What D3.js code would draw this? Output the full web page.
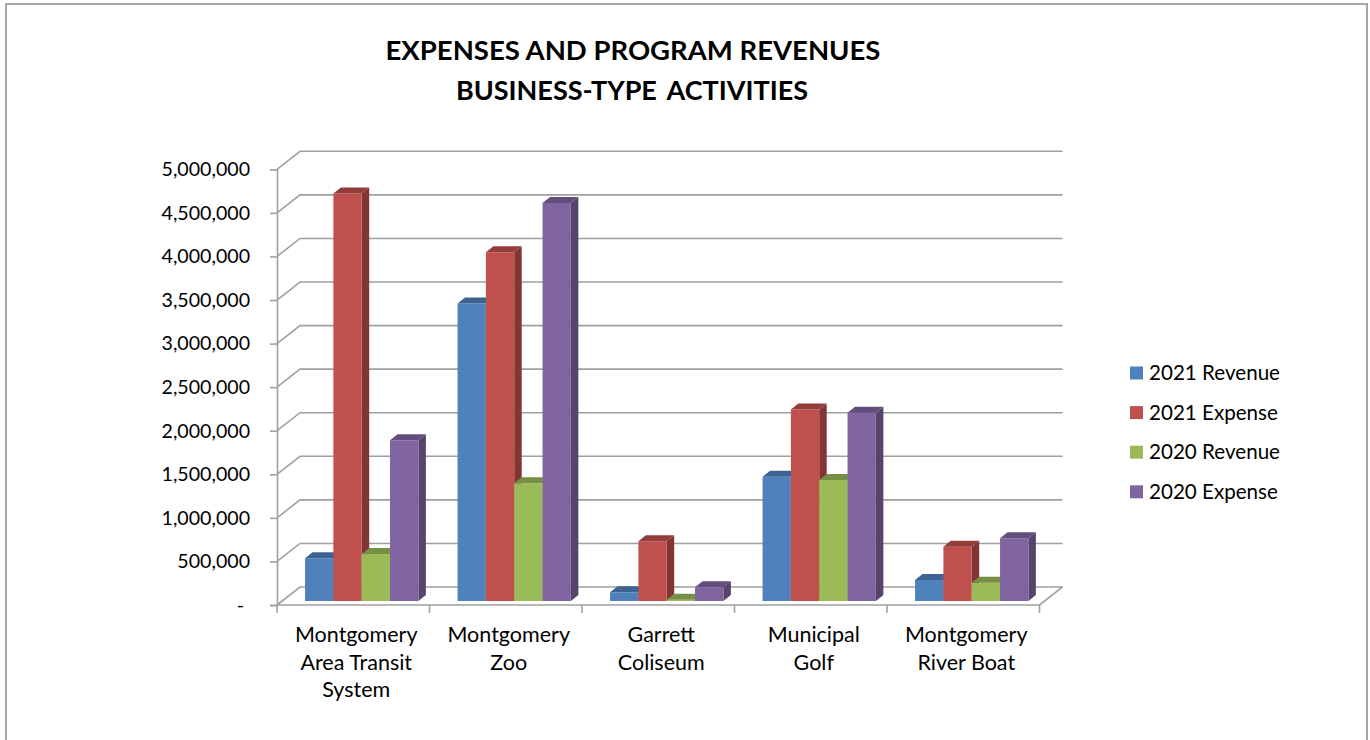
<!DOCTYPE html>
<html>
<head>
<meta charset="utf-8">
<script src="https://unpkg.com/d3@7/dist/d3.min.js"></script>
<style>
  body { margin: 0; background: #fff; }
  svg text { font-family: Lato, "Open Sans", sans-serif; fill: #000; }
</style>
</head>
<body>
<div></div>
<script>
// Data
const categories = ["Montgomery Area Transit System", "Montgomery Zoo", "Garrett Coliseum", "Municipal Golf", "Montgomery River Boat"];
const categoryLines = [["Montgomery", "Area Transit", "System"], ["Montgomery", "Zoo"], ["Garrett", "Coliseum"], ["Municipal", "Golf"], ["Montgomery", "River Boat"]];
const seriesNames = ["2021 Revenue", "2021 Expense", "2020 Revenue", "2020 Expense"];
const revenue2021 = [490000, 3414000, 100000, 1426000, 241000];
const expense2021 = [4676000, 4002000, 685000, 2198000, 623000];
const revenue2020 = [539000, 1350000, 15000, 1388000, 210000];
const expense2020 = [1846000, 4568000, 157000, 2160000, 719000];
const yTicks = [0, 500000, 1000000, 1500000, 2000000, 2500000, 3000000, 3500000, 4000000, 4500000, 5000000];

const seriesValues = [revenue2021, expense2021, revenue2020, expense2020];
const colors = ["#4F81BD", "#C0504D", "#9BBB59", "#8064A2"];

const w = 1370, h = 740;

// depth of the chart box (back wall offset) and bar offsets
const wall = { dx: 23, dy: -18 };
const barFront = { dx: 0, dy: -4 };
const barDepth = { dx: 7.5, dy: -6 };

const svg = d3.select("div")
  .append("svg")
  .attr("width", w)
  .attr("height", h);

// outer frame
svg.append("rect")
  .attr("x", 6).attr("y", 4)
  .attr("width", 1361).attr("height", 760)
  .attr("fill", "none")
  .attr("stroke", "#A6A6A6")
  .attr("stroke-width", 2);

// title
svg.append("text")
  .attr("x", 633).attr("y", 60)
  .attr("text-anchor", "middle")
  .attr("font-weight", "bold")
  .attr("font-size", 27.5)
  .text("EXPENSES AND PROGRAM REVENUES");
svg.append("text")
  .attr("x", 632).attr("y", 100)
  .attr("text-anchor", "middle")
  .attr("font-weight", "bold")
  .attr("font-size", 27)
  .attr("word-spacing", 4)
  .text("BUSINESS-TYPE ACTIVITIES");

const x = d3.scaleBand()
  .domain(categories)
  .range([277, 1039.5]);

const y = d3.scaleLinear()
  .domain([0, 5000000])
  .range([605, 169.3]);

// position of the series inside a category band
const xs = d3.scaleBand()
  .domain(seriesNames)
  .range([x.bandwidth() * 0.184, x.bandwidth() * 0.927]);

const gridColor = "#A0A0A0";
const right = x.range()[1];

// back wall gridlines + side wall diagonals
const grid = svg.append("g").attr("class", "grid")
  .attr("fill", "none").attr("stroke", gridColor).attr("stroke-width", 1.6);

grid.selectAll("path")
  .data(yTicks)
  .enter()
  .append("path")
  .attr("d", d => {
    const y0 = y(d);
    return `M${x.range()[0]},${y0}L${x.range()[0] + wall.dx},${y0 + wall.dy}L${right + wall.dx},${y0 + wall.dy}`;
  });

// floor front and right edges
grid.append("path")
  .attr("d", `M${x.range()[0]},${y(0)}L${right},${y(0)}L${right + wall.dx},${y(0) + wall.dy}`);

// y axis
const yAxis = d3.axisLeft(y)
  .tickValues(yTicks)
  .tickSize(7)
  .tickPadding(20)
  .tickFormat(d => d === 0 ? "-" : d3.format(",")(d));

const ya = svg.append("g")
  .attr("transform", `translate(${x.range()[0]},0)`)
  .call(yAxis);
ya.select(".domain").attr("stroke", gridColor).attr("stroke-width", 1.6);
ya.selectAll(".tick line").attr("stroke", gridColor).attr("stroke-width", 1.6);
ya.selectAll(".tick text")
  .attr("font-size", 19.6)
  .attr("font-family", "Lato, sans-serif")
  .attr("fill", "#000");
ya.selectAll(".tick text").filter(d => d === 0).attr("dx", -6);

// x axis ticks
const xa = svg.append("g");
xa.selectAll("line")
  .data(categories.concat(["end"]))
  .enter()
  .append("line")
  .attr("x1", d => d === "end" ? right : x(d))
  .attr("x2", d => d === "end" ? right : x(d))
  .attr("y1", y(0))
  .attr("y2", y(0) + 8)
  .attr("stroke", gridColor)
  .attr("stroke-width", 1.6);

// category labels
const labels = svg.append("g")
  .selectAll("text")
  .data(categories)
  .enter()
  .append("text")
  .attr("text-anchor", "middle")
  .attr("font-size", 21.5)
  .attr("transform", d => `translate(${x(d) + x.bandwidth() / 2 + 3},${y(0) + 37})`);

labels.selectAll("tspan")
  .data((d, i) => categoryLines[i])
  .enter()
  .append("tspan")
  .attr("x", 0)
  .attr("dy", (d, i) => i === 0 ? 0 : 27.5)
  .text(d => d);

// bars, drawn left to right so faces overlap properly
const bars = [];
categories.forEach((c, j) => {
  seriesNames.forEach((s, i) => {
    bars.push({ cat: c, series: s, i: i, value: seriesValues[i][j] });
  });
});

const barG = svg.append("g")
  .selectAll("g")
  .data(bars)
  .enter()
  .append("g");

function face(d, kind) {
  const x0 = x(d.cat) + xs(d.series) + barFront.dx;
  const x1 = x0 + xs.bandwidth();
  const yb = y(0) + barFront.dy;
  const yt = y(d.value) + barFront.dy;
  const ddx = barDepth.dx, ddy = barDepth.dy;
  if (kind === "front") return `M${x0},${yb}L${x1},${yb}L${x1},${yt}L${x0},${yt}Z`;
  if (kind === "top") return `M${x0},${yt}L${x1},${yt}L${x1 + ddx},${yt + ddy}L${x0 + ddx},${yt + ddy}Z`;
  return `M${x1},${yb}L${x1 + ddx},${yb + ddy}L${x1 + ddx},${yt + ddy}L${x1},${yt}Z`;
}

barG.append("path")
  .attr("d", d => face(d, "side"))
  .attr("fill", d => d3.color(colors[d.i]).darker(1.1));
barG.append("path")
  .attr("d", d => face(d, "front"))
  .attr("fill", d => colors[d.i]);
barG.append("path")
  .attr("d", d => face(d, "top"))
  .attr("fill", d => d3.color(colors[d.i]).darker(0.75));

// legend
const legend = svg.append("g")
  .selectAll("g")
  .data(seriesNames)
  .enter()
  .append("g")
  .attr("transform", (d, i) => `translate(1130,${373 + i * 39.6})`);

legend.append("rect")
  .attr("x", 0).attr("y", -6.5)
  .attr("width", 13).attr("height", 13)
  .attr("fill", (d, i) => colors[i]);

legend.append("text")
  .attr("x", 19)
  .attr("dy", "0.35em")
  .attr("font-size", 20.6)
  .text(d => d);
</script>
</body>
</html>
